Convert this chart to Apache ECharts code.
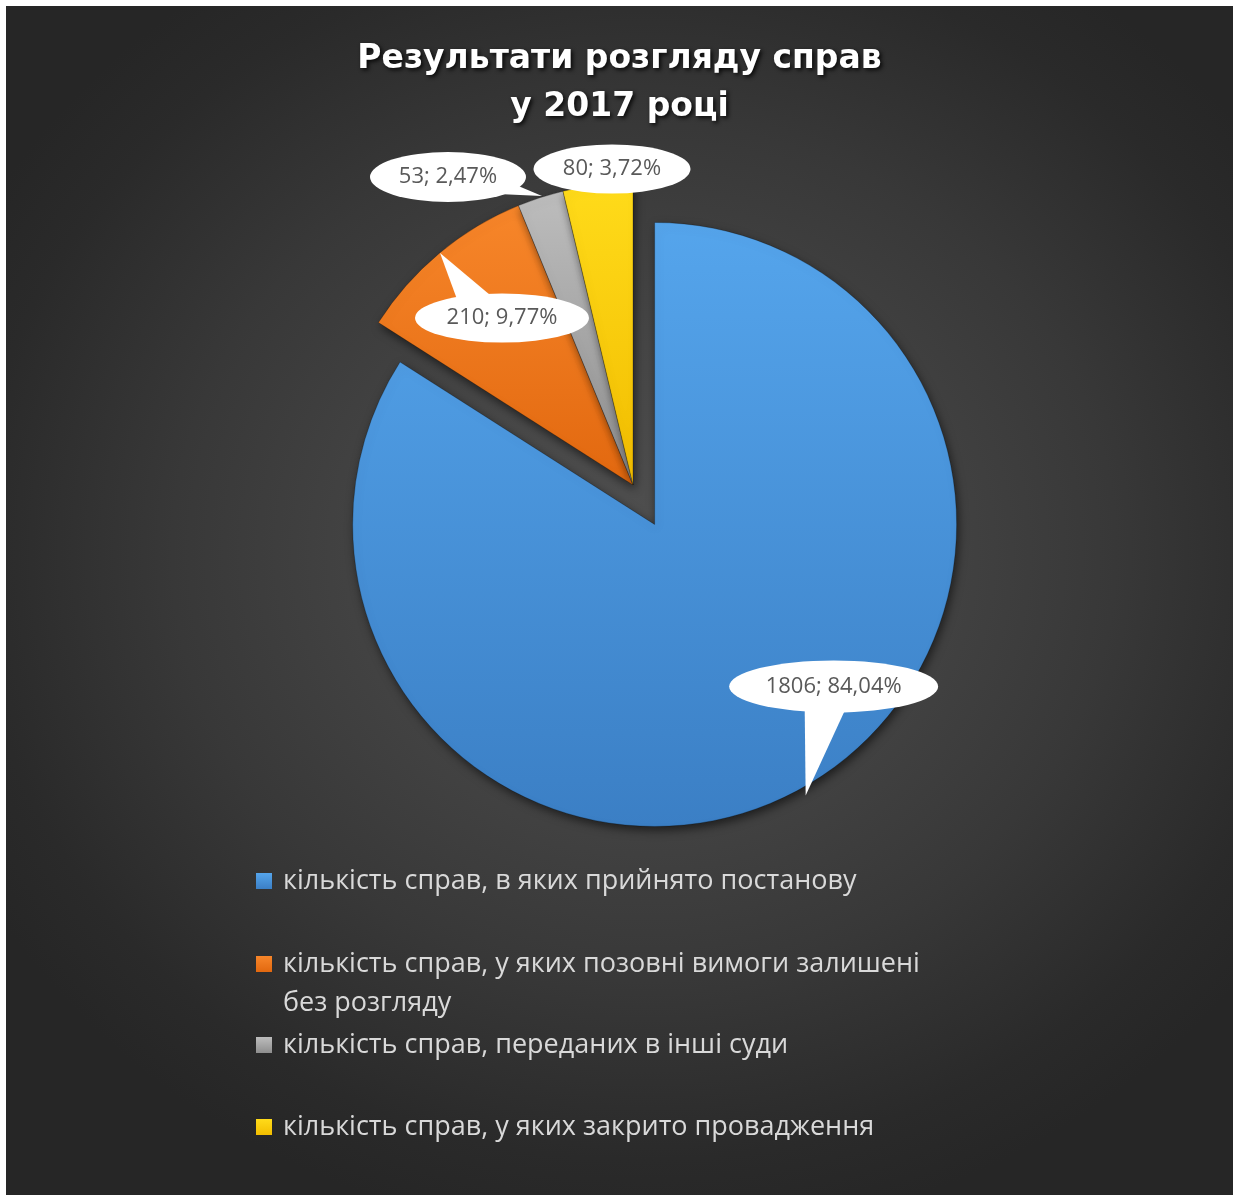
<!DOCTYPE html>
<html>
<head>
<meta charset="utf-8">
<script src="https://cdn.jsdelivr.net/npm/echarts@6/dist/echarts.min.js"></script>
<style>
html,body{margin:0;padding:0;background:#ffffff;width:1233px;height:1195px;overflow:hidden;}
#main{position:absolute;left:6px;top:6px;width:1227px;height:1189px;
background:radial-gradient(ellipse 62% 58% at 52% 46%, #505050 0%, #464646 30%, #383838 62%, #2a2a2a 88%, #262626 100%);}
</style>
</head>
<body>
<div id="main"></div>
<script>
// ---- data ----
const categories = [
  'кількість справ, в яких прийнято постанову',
  'кількість справ, у яких позовні вимоги залишені без розгляду',
  'кількість справ, переданих в інші суди',
  'кількість справ, у яких закрито провадження'
];
const values = [1806, 210, 53, 80];
const titleText = 'Результати розгляду справ\nу 2017 році';

// ---- styles ----
const palette = [
  ['#55a5ec', '#3b7fc5'],
  ['#f7862a', '#e2680f'],
  ['#bdbdbd', '#8e8e8e'],
  ['#ffdb1a', '#f2bd00']
];

// ---- layout (chart pixel space) ----
const CX = 627, CY = 479, R = 302;
// callout geometry relative to ellipse centre: ellipse offset from pie centre, radii, box extents, tail
const callouts = [
  {dx: 193, dy: 191, rx: 105, ry: 26.5, box: [-105, -27, 105, 111], tail: [[-29, 18], [13, 20], [-28, 109]]},
  {dx: -131, dy: -167, rx: 87.5, ry: 25, box: [-88, -66, 88, 26], tail: [[-44, -16], [-6, -18], [-62, -65]]},
  {dx: -185, dy: -308, rx: 78.5, ry: 25.5, box: [-79, -26, 96, 26], tail: [[50, 17], [68, 8], [94, 19]]},
  {dx: -21, dy: -316, rx: 79, ry: 25, box: [-79, -26, 79, 26], tail: null}
];
const LH = 24, CW = 150;
const LEGEND_WRAP = 48; // max characters per legend line

function wrapText(s, maxChars) {
  const words = s.split(' ');
  const lines = [];
  let cur = '';
  words.forEach(w => {
    const next = cur ? cur + ' ' + w : w;
    if (next.length > maxChars && cur) { lines.push(cur); cur = w; }
    else cur = next;
  });
  if (cur) lines.push(cur);
  return lines;
}

function svgFor(c) {
  const [l, t, r, b] = c.box;
  const w = r - l, h = b - t;
  const ex = -l, ey = -t;
  let s = '<svg xmlns="http://www.w3.org/2000/svg" width="' + w + '" height="' + h + '" viewBox="0 0 ' + w + ' ' + h + '">';
  s += '<ellipse cx="' + ex + '" cy="' + ey + '" rx="' + (c.rx - 0.5) + '" ry="' + (c.ry - 0.5) + '" fill="#ffffff"/>';
  if (c.tail) {
    s += '<polygon fill="#ffffff" points="' + c.tail.map(p => (p[0] + ex) + ',' + (p[1] + ey)).join(' ') + '"/>';
  }
  s += '</svg>';
  return 'data:image/svg+xml;charset=utf-8,' + encodeURIComponent(s);
}

function loadImg(src) {
  return new Promise(res => {
    const im = new Image();
    im.onload = () => res(im);
    im.onerror = () => res(im);
    im.src = src;
  });
}

Promise.all(callouts.map(c => loadImg(svgFor(c)))).then(imgs => {
  const chart = echarts.init(document.getElementById('main'), null, {renderer: 'canvas'});

  const seriesData = categories.map((name, i) => {
    const c = callouts[i];
    const [l, t, r, b] = c.box;
    return {
      name: name,
      value: values[i],
      selected: i === 0,
      itemStyle: {
        color: new echarts.graphic.LinearGradient(0, 0, 0, 1, [
          {offset: 0, color: palette[i][0]},
          {offset: 1, color: palette[i][1]}
        ])
      },
      label: {
        backgroundColor: {image: imgs[i]},
        padding: [-t - LH / 2, r - CW / 2, b - LH / 2, -l - CW / 2]
      }
    };
  });

  const legendIconCenters = [875, 958, 1039, 1121];
  const legends = categories.map((name, i) => {
    const lines = wrapText(name, LEGEND_WRAP);
    const extra = lines.length - 1; // extra lines below the first one
    return {
      data: [name],
      orient: 'vertical',
      left: 250,
      top: legendIconCenters[i] - 19.5 - 39 * extra,
      padding: 0,
      itemWidth: 16,
      itemHeight: 16,
      icon: 'rect',
      selectedMode: false,
      itemStyle: {borderWidth: 0},
      // leading empty lines balance the extra lines so the icon sits on the first line
      formatter: () => '\n'.repeat(extra) + lines.join('\n'),
      textStyle: {
        color: '#d9d9d9',
        fontFamily: 'Open Sans',
        fontSize: 27,
        lineHeight: 39,
        padding: [0, 0, 0, 6]
      }
    };
  });

  chart.setOption({
    animation: false,
    backgroundColor: 'transparent',
    title: {
      text: titleText,
      left: 'center',
      top: 29,
      padding: 0,
      textStyle: {
        color: '#ffffff',
        fontFamily: 'DejaVu Sans',
        fontWeight: 'bold',
        fontSize: 33,
        lineHeight: 48,
        textShadowColor: 'rgba(0,0,0,0.85)',
        textShadowBlur: 4,
        textShadowOffsetX: 2,
        textShadowOffsetY: 2
      }
    },
    legend: legends,
    series: [{
      type: 'pie',
      center: [CX, CY],
      radius: R,
      startAngle: 90,
      clockwise: true,
      selectedMode: 'multiple',
      selectedOffset: 45,
      avoidLabelOverlap: false,
      emphasis: {disabled: true},
      itemStyle: {
        borderColor: 'rgba(0,0,0,0.25)',
        borderWidth: 1,
        shadowColor: 'rgba(0,0,0,0.55)',
        shadowBlur: 10,
        shadowOffsetX: 2,
        shadowOffsetY: 4
      },
      label: {
        show: true,
        position: 'inside',
        align: 'left',
        lineHeight: LH,
        formatter: p => '{t|' + p.value + '; ' + p.percent.toFixed(2).replace('.', ',') + '%}',
        rich: {
          t: {
            width: CW,
            align: 'center',
            color: '#595959',
            fontFamily: 'Open Sans',
            fontSize: 22,
            lineHeight: LH
          }
        }
      },
      labelLine: {show: false},
      labelLayout: function (params) {
        const c = callouts[params.dataIndex];
        const [l, t, r, b] = c.box;
        return {
          x: CX + c.dx + l,
          y: CY + c.dy + t,
          align: 'left',
          verticalAlign: 'top'
        };
      },
      data: seriesData
    }]
  });
});
</script>
</body>
</html>
